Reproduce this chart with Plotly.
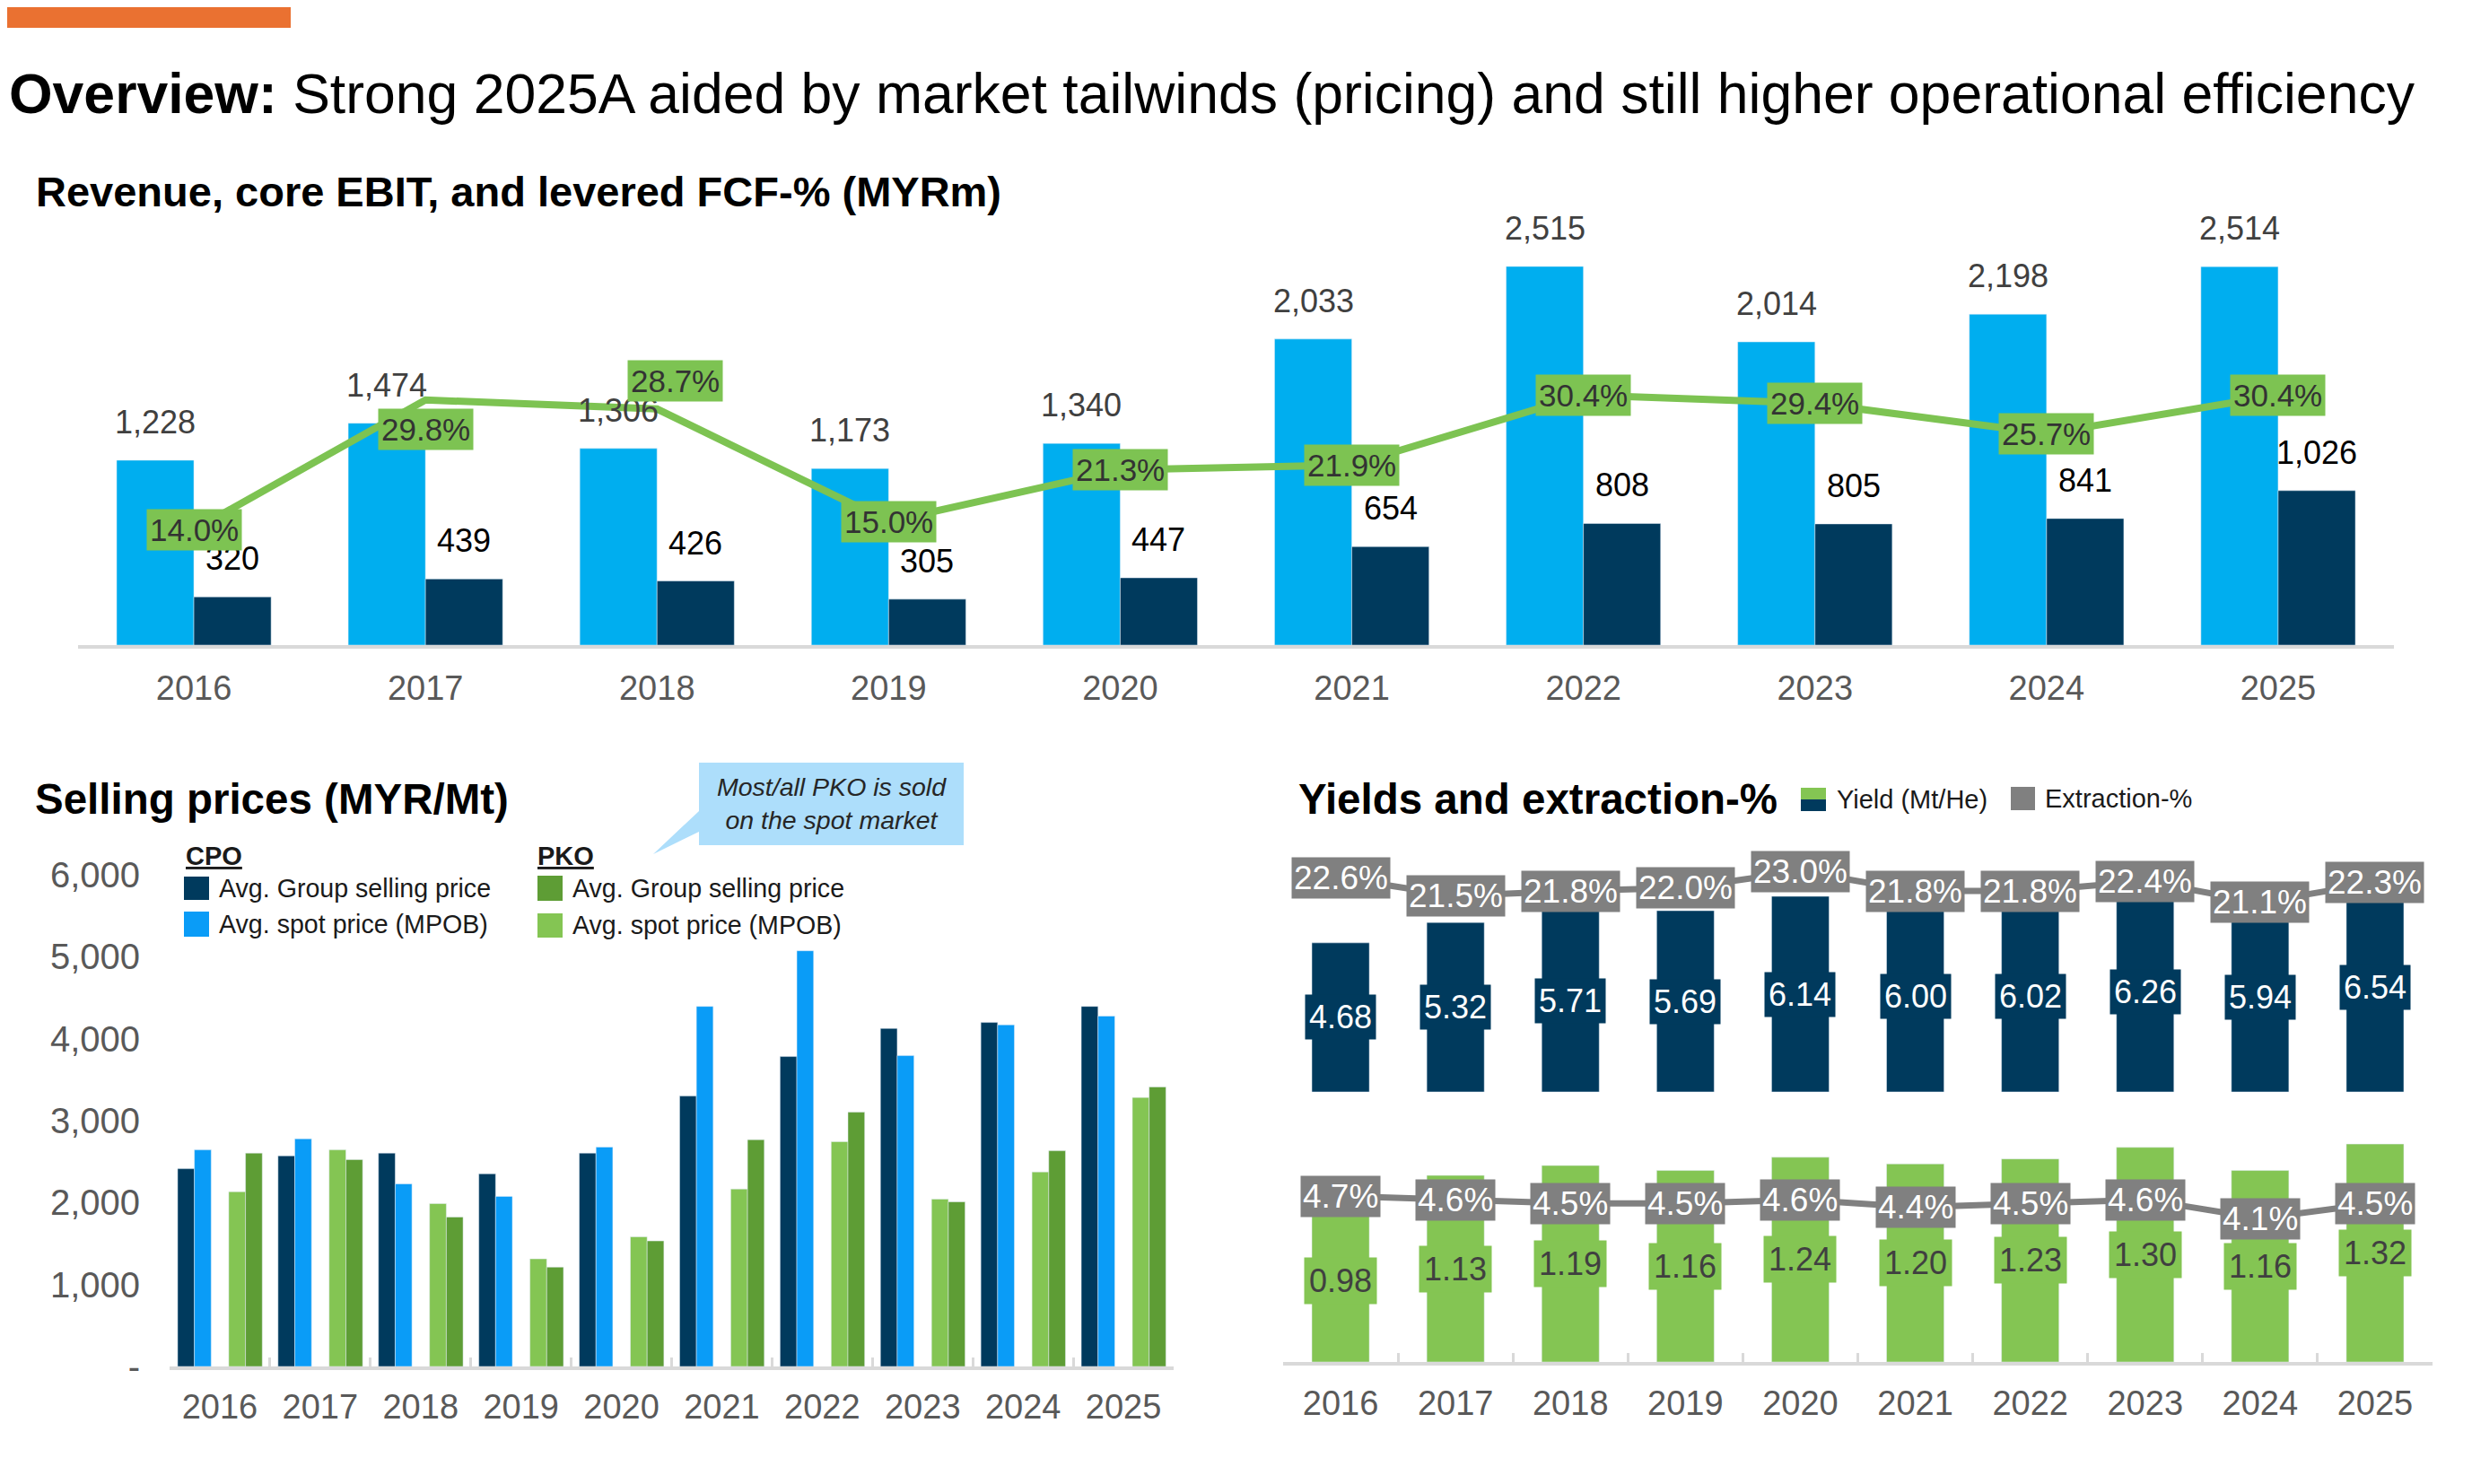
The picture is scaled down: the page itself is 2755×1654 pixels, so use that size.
import plotly.graph_objects as go

# ---- data -------------------------------------------------------------
years = ["2016", "2017", "2018", "2019", "2020", "2021", "2022", "2023", "2024", "2025"]

revenue = [1228, 1474, 1306, 1173, 1340, 2033, 2515, 2014, 2198, 2514]
core_ebit = [320, 439, 426, 305, 447, 654, 808, 805, 841, 1026]
fcf_pct = [14.0, 29.8, 28.7, 15.0, 21.3, 21.9, 30.4, 29.4, 25.7, 30.4]

cpo_group_price = [2413, 2570, 2604, 2351, 2604, 3300, 3782, 4125, 4198, 4394]
cpo_spot_price = [2643, 2778, 2228, 2076, 2677, 4394, 5073, 3793, 4169, 4276]
pko_spot_price = [2132, 2643, 1987, 1313, 1582, 2166, 2744, 2043, 2374, 3283]
pko_group_price = [2604, 2525, 1824, 1212, 1532, 2767, 3103, 2009, 2632, 3412]

cpo_yield = [4.68, 5.32, 5.71, 5.69, 6.14, 6.00, 6.02, 6.26, 5.94, 6.54]
pko_yield = [0.98, 1.13, 1.19, 1.16, 1.24, 1.20, 1.23, 1.30, 1.16, 1.32]
cpo_extraction = [22.6, 21.5, 21.8, 22.0, 23.0, 21.8, 21.8, 22.4, 21.1, 22.3]
pko_extraction = [4.7, 4.6, 4.5, 4.5, 4.6, 4.4, 4.5, 4.6, 4.1, 4.5]

price_ticks = [0, 1000, 2000, 3000, 4000, 5000, 6000]
price_tick_text = ["-", "1,000", "2,000", "3,000", "4,000", "5,000", "6,000"]

# ---- styling ----------------------------------------------------------
W, H = 2755, 1654      # window size
OFF = 8                # page body margin the figure sits behind
FW, FH = W - OFF, H - OFF
FONT = "Liberation Sans, Arial, sans-serif"

ORANGE = "#EA7131"
NAVY = "#003A5D"
REV_BLUE = "#00AEEF"
SPOT_BLUE = "#0A9CF7"
LINE_GREEN = "#7DC352"
LIGHT_GREEN = "#84C553"
DARK_GREEN = "#5E9D35"
GREY = "#808080"
AXIS_GREY = "#D9D9D9"
TICK_TEXT = "#595959"
LABEL_TEXT = "#404040"
CALLOUT = "#ADDEFB"

# label nudges (px) for the FCF-% boxes that sit off the line
fcf_label_shift = {"2017": (0, -33), "2018": (20, 31)}


def px(x):
    return (x - OFF) / FW


def py(y):
    return 1 - (y - OFF) / FH


def axis_range(bottom, top, v0, p0, ppu):
    # pixel domain [bottom, top], value v0 sits at pixel p0, ppu pixels per unit
    return [v0 - (bottom - p0) / ppu, v0 + (p0 - top) / ppu]


fig = go.Figure()

# ---- top: revenue / core EBIT / FCF-% ---------------------------------
fig.add_trace(go.Bar(x=years, y=revenue, marker_color=REV_BLUE, xaxis="x", yaxis="y"))
fig.add_trace(go.Bar(x=years, y=core_ebit, marker_color=NAVY, xaxis="x", yaxis="y"))
fig.add_trace(go.Scatter(x=years, y=fcf_pct, mode="lines", line=dict(color=LINE_GREEN, width=8),
                         xaxis="x", yaxis="y2"))

# ---- bottom left: selling prices --------------------------------------
bw = 0.167
for vals, col, off in [(cpo_group_price, NAVY, -0.42), (cpo_spot_price, SPOT_BLUE, -0.253),
                       (pko_spot_price, LIGHT_GREEN, 0.089), (pko_group_price, DARK_GREEN, 0.256)]:
    fig.add_trace(go.Bar(x=years, y=vals, marker_color=col, width=bw, offset=off,
                         xaxis="x2", yaxis="y3"))

# ---- bottom right: yields & extraction --------------------------------
fig.add_trace(go.Bar(x=years, y=pko_yield, marker_color=LIGHT_GREEN, width=0.5, offset=-0.25,
                     xaxis="x3", yaxis="y4"))
fig.add_trace(go.Bar(x=years, y=cpo_yield, marker_color=NAVY, width=0.5, offset=-0.25,
                     xaxis="x3", yaxis="y5"))
fig.add_trace(go.Scatter(x=years, y=pko_extraction, mode="lines", line=dict(color=GREY, width=7),
                         xaxis="x3", yaxis="y6"))
fig.add_trace(go.Scatter(x=years, y=cpo_extraction, mode="lines", line=dict(color=GREY, width=7),
                         xaxis="x3", yaxis="y7"))

# ---- annotations ------------------------------------------------------
ann = []


def text(x, y, s, size, color="#000000", xanchor="left", **kw):
    ann.append(dict(x=px(x), y=py(y), xref="paper", yref="paper", text=s, showarrow=False,
                    xanchor=xanchor, yanchor="middle", font=dict(size=size, color=color), **kw))


text(8, 104, "<b>Overview:</b> Strong 2025A aided by market tailwinds (pricing) and still higher "
     "operational efficiency", 62.5)
text(38, 213, "<b>Revenue, core EBIT, and levered FCF-% (MYRm)</b>", 47)
text(37, 890, "<b>Selling prices (MYR/Mt)</b>", 47.5)
text(1445, 890, "<b>Yields and extraction-%</b>", 47.5)

# category axes: annotations are placed by category index (year strings look numeric)
for i, (r, e) in enumerate(zip(revenue, core_ebit)):
    ann.append(dict(x=i, y=r, xref="x", yref="y", text=f"{r:,}", showarrow=False, xshift=-43,
                    yshift=20, yanchor="bottom", font=dict(size=36, color=LABEL_TEXT)))
    ann.append(dict(x=i, y=e, xref="x", yref="y", text=f"{e:,}", showarrow=False, xshift=43,
                    yshift=20, yanchor="bottom", font=dict(size=36, color="#000000")))

for i, (yr, f) in enumerate(zip(years, fcf_pct)):
    dx, dy = fcf_label_shift.get(yr, (0, 0))
    ann.append(dict(x=i, y=f, xref="x", yref="y2", text=f"{f:.1f}%", showarrow=False,
                    xshift=dx, yshift=dy, bgcolor=LINE_GREEN, borderpad=3,
                    font=dict(size=35, color="#333333")))

for i, v in enumerate(cpo_yield):
    ann.append(dict(x=i, y=v / 2, xref="x3", yref="y5", text=f"{v:.2f}", showarrow=False,
                    bgcolor=NAVY, borderpad=4, font=dict(size=36, color="#FFFFFF")))
for i, v in enumerate(pko_yield):
    ann.append(dict(x=i, y=v / 2, xref="x3", yref="y4", text=f"{v:.2f}", showarrow=False,
                    bgcolor=LIGHT_GREEN, borderpad=5, font=dict(size=36, color=LABEL_TEXT)))
for i, v in enumerate(cpo_extraction):
    ann.append(dict(x=i, y=v, xref="x3", yref="y7", text=f"{v:.1f}%", showarrow=False,
                    bgcolor=GREY, borderpad=2, font=dict(size=37, color="#FFFFFF")))
for i, v in enumerate(pko_extraction):
    ann.append(dict(x=i, y=v, xref="x3", yref="y6", text=f"{v:.1f}%", showarrow=False,
                    bgcolor=GREY, borderpad=2, font=dict(size=37, color="#FFFFFF")))

# legends drawn by hand
text(205, 954, "<b><u>CPO</u></b>", 29, "#1A1A1A")
text(597, 954, "<b><u>PKO</u></b>", 29, "#1A1A1A")
text(242, 990, "Avg. Group selling price", 28.6, "#1A1A1A")
text(242, 1030, "Avg. spot price (MPOB)", 28.6, "#1A1A1A")
text(636, 990, "Avg. Group selling price", 28.6, "#1A1A1A")
text(636, 1031, "Avg. spot price (MPOB)", 28.6, "#1A1A1A")
text(2045, 891, "Yield (Mt/He)", 29, "#1A1A1A")
text(2277, 890, "Extraction-%", 29, "#1A1A1A")
text(927, 895, "<i>Most/all PKO is sold<br>on the spot market</i>", 28.5, "#262626", xanchor="center")


def rect(x0, y0, x1, y1, color):
    return dict(type="rect", xref="paper", yref="paper", x0=px(x0), x1=px(x1), y0=py(y0), y1=py(y1),
                fillcolor=color, line=dict(width=0), layer="above")


shapes = [
    rect(8, 5, 324, 31, ORANGE),
    rect(205, 977, 233, 1003, NAVY),
    rect(205, 1016, 233, 1044, SPOT_BLUE),
    rect(599, 976, 627, 1004, DARK_GREEN),
    rect(599, 1018, 627, 1045, LIGHT_GREEN),
    rect(2007, 878, 2035, 891, LIGHT_GREEN),
    rect(2007, 891, 2035, 904, NAVY),
    rect(2241, 877, 2268, 903, GREY),
    rect(779, 850, 1074, 942, CALLOUT),
    dict(type="path", xref="paper", yref="paper", fillcolor=CALLOUT, line=dict(width=0),
         path=f"M {px(779)} {py(904)} L {px(728)} {py(952)} L {px(779)} {py(927)} Z"),
]

# ---- axes -------------------------------------------------------------
xcommon = dict(type="category", showgrid=False, zeroline=False, showline=True, linecolor=AXIS_GREY,
               linewidth=4, tickfont=dict(size=38, color=TICK_TEXT), automargin=False, tickangle=0,
               range=[-0.5, 9.5])
ycommon = dict(visible=False, showgrid=False, zeroline=False, automargin=False)

top_b, top_t = 719, 240
bl_b, bl_t = 1523, 960
br_b, br_t = 1518, 940

fig.update_layout(
    width=FW, height=FH, autosize=False,
    margin=dict(l=0, r=0, t=0, b=0, pad=0),
    paper_bgcolor="white", plot_bgcolor="white",
    font=dict(family=FONT),
    showlegend=False,
    barmode="group", bargap=0.333, bargroupgap=0,
    xaxis=dict(xcommon, domain=[px(87), px(2668)], anchor="y", ticks="", ticklabelstandoff=11),
    yaxis=dict(ycommon, domain=[py(top_b), py(top_t)], anchor="x",
               range=axis_range(top_b, top_t, 0, 719, 0.1678)),
    yaxis2=dict(ycommon, overlaying="y", anchor="x",
                range=axis_range(top_b, top_t, 0, 719, 9.17)),
    xaxis2=dict(xcommon, domain=[px(189), px(1308)], anchor="y3", ticks="inside", ticklabelstandoff=8,
                tickson="boundaries", ticklen=10, tickwidth=3, tickcolor=AXIS_GREY),
    yaxis3=dict(domain=[py(bl_b), py(bl_t)], anchor="x2", showgrid=False, zeroline=False,
                showline=False, tickvals=price_ticks, ticktext=price_tick_text, automargin=False,
                tickfont=dict(size=40, color=TICK_TEXT), ticklabelstandoff=32,
                range=axis_range(bl_b, bl_t, 0, 1523, 0.09133)),
    xaxis3=dict(xcommon, domain=[px(1430), px(2711)], anchor="y4", ticks="inside", ticklabelstandoff=9,
                tickson="boundaries", ticklen=10, tickwidth=3, tickcolor=AXIS_GREY),
    yaxis4=dict(ycommon, domain=[py(br_b), py(br_t)], anchor="x3",
                range=axis_range(br_b, br_t, 0, 1518, 184)),
    yaxis5=dict(ycommon, overlaying="y4", anchor="x3",
                range=axis_range(br_b, br_t, 0, 1217, 35.5)),
    yaxis6=dict(ycommon, overlaying="y4", anchor="x3",
                range=axis_range(br_b, br_t, 4.7, 1333, 41.7)),
    yaxis7=dict(ycommon, overlaying="y4", anchor="x3",
                range=axis_range(br_b, br_t, 23.0, 971, 18.4)),
    annotations=ann,
    shapes=shapes,
)

fig.write_html("out.html")
